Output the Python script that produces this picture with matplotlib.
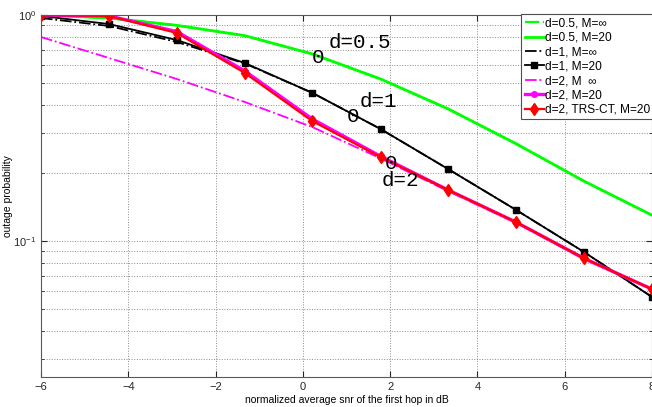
import numpy as np
import matplotlib
matplotlib.use('Agg')
import matplotlib.pyplot as plt
from matplotlib.ticker import LogLocator, NullFormatter

# snr grid (dB)
snr = [-6, -4.44, -2.89, -1.33, 0.22, 1.78, 3.33, 4.89, 6.44, 8]

d05_inf = [1.0, 0.97, 0.90, 0.81, 0.672, 0.521, 0.384, 0.269, 0.184, 0.130]
d05_m20 = [1.0, 0.97, 0.90, 0.81, 0.672, 0.521, 0.384, 0.269, 0.184, 0.130]
d1_inf = [0.97, 0.894, 0.76, 0.61, 0.452, 0.313, 0.208, 0.137, 0.0894, 0.0565]
d1_m20 = [0.99, 0.912, 0.775, 0.613, 0.452, 0.313, 0.208, 0.137, 0.0894, 0.0565]
d2_inf = [0.799, 0.645, 0.521, 0.412, 0.319, 0.232, 0.166, 0.120, 0.083, 0.061]
d2_m20 = [1.0, 0.99, 0.845, 0.565, 0.346, 0.237, 0.168, 0.121, 0.0838, 0.0612]
d2_trs = [1.0, 0.99, 0.833, 0.554, 0.339, 0.235, 0.168, 0.121, 0.0838, 0.0612]

labels = ['d=0.5, M=\u221e', 'd=0.5, M=20', 'd=1, M=\u221e', 'd=1, M=20',
          'd=2, M  \u221e', 'd=2, M=20', 'd=2, TRS-CT, M=20']

plt.rcParams['font.family'] = ['Liberation Sans', 'DejaVu Sans']
plt.rcParams['axes.unicode_minus'] = True

fig = plt.figure(figsize=(6.52, 4.07), dpi=100)
ax = fig.add_axes([41 / 652, 1 - 377 / 407, 1 - 41 / 652, (377 - 15) / 407])

ax.semilogy(snr, d05_inf, color='#00ff00', ls='-.', lw=1.6, label=labels[0])
ax.semilogy(snr, d05_m20, color='#00ff00', ls='-', lw=2.0, label=labels[1])
ax.semilogy(snr, d1_inf, color='black', ls='-.', lw=1.3, label=labels[2])
ax.semilogy(snr, d1_m20, color='black', ls='-', lw=1.3, marker='s', ms=4, label=labels[3])
ax.semilogy(snr, d2_inf, color='#ff00ff', ls='-.', lw=1.3, label=labels[4])
ax.semilogy(snr, d2_m20, color='#ff00ff', ls='-', lw=2.4, marker='o', ms=4, label=labels[5])
ax.semilogy(snr, d2_trs, color='#ff0000', ls='-', lw=1.6, marker='d', ms=6, label=labels[6])

ax.set_xlim(-6, 8)
ax.set_ylim(0.025, 1)
ax.set_xticks([-6, -4, -2, 0, 2, 4, 6, 8])
ax.yaxis.set_major_locator(LogLocator(base=10, numticks=5))
ax.yaxis.set_minor_locator(LogLocator(base=10, subs=np.arange(2, 10), numticks=20))
ax.yaxis.set_minor_formatter(NullFormatter())

ax.grid(True, which='major', ls=':', color='0.55', lw=0.7)
ax.grid(True, which='minor', axis='y', ls=':', color='0.55', lw=0.7)
ax.tick_params(which='both', direction='in', top=True, right=True, labelsize=8, colors='0.15')
ax.tick_params(which='major', length=4)
ax.tick_params(which='minor', length=2)
for s in ax.spines.values():
    s.set_color('0.35')

ax.set_xlabel('normalized average snr of the first hop in dB', fontsize=7.5, labelpad=2)
ax.set_ylabel('outage probability', fontsize=7.5, labelpad=0)

mono = dict(family='Liberation Mono', fontsize=15, color='black')
ax.text(0.58, 0.714, 'd=0.5', ha='left', va='baseline', **mono)
ax.text(0.35, 0.613, '0', ha='center', va='baseline', **mono)
ax.text(1.31, 0.392, 'd=1', ha='left', va='baseline', **mono)
ax.text(1.15, 0.336, '0', ha='center', va='baseline', **mono)
ax.text(1.81, 0.175, 'd=2', ha='left', va='baseline', **mono)
ax.text(2.03, 0.208, '0', ha='center', va='baseline', **mono)

leg = ax.legend(loc='upper left', bbox_to_anchor=(0.7856, 1.003), fontsize=8.6,
                fancybox=False, framealpha=1, edgecolor='0.3', borderaxespad=0,
                handlelength=1.6, handletextpad=0.15, labelspacing=0.2,
                borderpad=0.3)
leg.get_frame().set_linewidth(0.8)

fig.savefig('out.png', dpi=100)
